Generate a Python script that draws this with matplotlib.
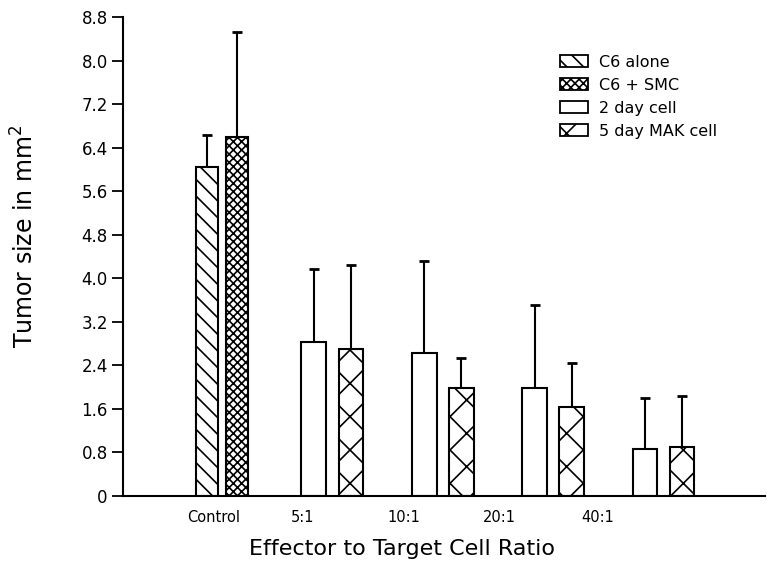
import matplotlib
matplotlib.use("Agg")
import matplotlib.pyplot as plt
from matplotlib.patches import Patch
import numpy as np

plt.rcParams['hatch.linewidth'] = 1.2
plt.rcParams['font.family'] = ['DejaVu Sans']

groups = ["Control", "5:1", "10:1", "20:1", "40:1"]
label_pos = [-0.08, 0.73, 1.65, 2.51, 3.40]

# first bar in each group: C6 alone (control) / 2 day cell
first_vals = [6.05, 2.83, 2.63, 1.99, 0.87]
first_err = [0.58, 1.34, 1.69, 1.52, 0.93]
# second bar: C6 + SMC (control) / 5 day MAK cell
second_vals = [6.60, 2.70, 1.99, 1.64, 0.90]
second_err = [1.92, 1.55, 0.55, 0.80, 0.94]

legend_labels = ["C6 alone", "C6 + SMC", "2 day cell", "5 day MAK cell"]

fig = plt.figure(figsize=(7.71, 5.65), dpi=100)
ax = fig.add_axes([123/771, 69/565, (765-123)/771, (496-17)/565])

x = np.arange(len(groups))
widths = [0.2, 0.225, 0.225, 0.225, 0.225]
offs = [0.136, 0.168, 0.168, 0.168, 0.168]
first_hatch = ['\\\\', '', '', '', '']
second_hatch = ['xxxx', 'x', 'x', 'x', 'x']
for i in range(len(groups)):
    ax.bar(x[i] - offs[i], first_vals[i], widths[i], facecolor='white', edgecolor='black',
           linewidth=1.5, hatch=first_hatch[i], zorder=2)
    ax.bar(x[i] + offs[i], second_vals[i], widths[i], facecolor='white', edgecolor='black',
           linewidth=1.5, hatch=second_hatch[i], zorder=2)
    ax.errorbar(x[i] - offs[i], first_vals[i], yerr=[[0], [first_err[i]]], fmt='none',
                ecolor='black', elinewidth=1.5, capsize=3.5, capthick=2, zorder=1)
    ax.errorbar(x[i] + offs[i], second_vals[i], yerr=[[0], [second_err[i]]], fmt='none',
                ecolor='black', elinewidth=1.5, capsize=3.5, capthick=2, zorder=1)

ax.set_xlim(-0.898, 4.92)
ax.set_ylim(0, 8.8)
yt = np.arange(0, 8.81, 0.8)
ax.set_yticks(yt)
ax.set_yticklabels(["0"] + [f"{v:.1f}" for v in yt[1:]], fontsize=12)
ax.set_xticks(label_pos)
ax.set_xticklabels(groups, fontsize=10.5)
ax.tick_params(axis='x', length=0, pad=10)
ax.tick_params(axis='y', length=8, width=1.3, direction='out', pad=3)
for s in ['top', 'right']:
    ax.spines[s].set_visible(False)
ax.spines['left'].set_linewidth(1.5)
ax.spines['bottom'].set_linewidth(1.5)

ax.set_xlabel("Effector to Target Cell Ratio", fontsize=16)
ax.xaxis.set_label_coords(0.435, -0.09)
ax.set_ylabel("Tumor size in mm$^2$", fontsize=17)
ax.yaxis.set_label_coords(-0.132, 0.543)

handles = [Patch(facecolor='white', edgecolor='black', hatch='\\\\', linewidth=1.3),
           Patch(facecolor='white', edgecolor='black', hatch='xxxx', linewidth=1.3),
           Patch(facecolor='white', edgecolor='black', hatch='', linewidth=1.3),
           Patch(facecolor='white', edgecolor='black', hatch='x', linewidth=1.3)]
ax.legend(handles, legend_labels, loc='upper left', bbox_to_anchor=(0.681, 0.921),
          frameon=False, fontsize=11.5, handlelength=1.75, handleheight=0.75,
          labelspacing=0.5, handletextpad=0.7, borderpad=0, borderaxespad=0)

fig.savefig("out.png", dpi=100)
